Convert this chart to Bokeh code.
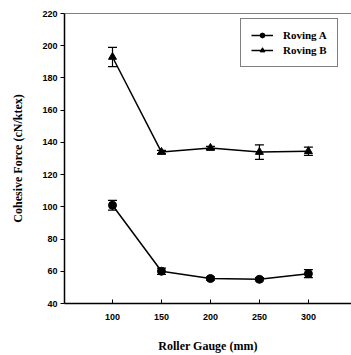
from bokeh.plotting import figure
from bokeh.models import ColumnDataSource, Whisker, TeeHead, Legend, LegendItem, Span, FixedTicker, Range1d
from bokeh.embed import file_html
from bokeh.resources import INLINE

gauge = [100, 150, 200, 250, 300]
roving_a = [101, 60, 55.5, 55, 58.5]
roving_a_err = [3, 2, 1, 1, 2.5]
roving_b = [193, 134, 136.5, 134, 134.5]
roving_b_err = [6, 1, 1, 4.5, 2.5]
y_ticks = [40, 60, 80, 100, 120, 140, 160, 180, 200, 220]

src_a = ColumnDataSource(dict(x=gauge, y=roving_a,
                              lo=[v - e for v, e in zip(roving_a, roving_a_err)],
                              hi=[v + e for v, e in zip(roving_a, roving_a_err)]))
src_b = ColumnDataSource(dict(x=gauge, y=roving_b,
                              lo=[v - e for v, e in zip(roving_b, roving_b_err)],
                              hi=[v + e for v, e in zip(roving_b, roving_b_err)]))

p = figure(width=351, height=355, output_backend="svg", toolbar_location=None,
           x_range=Range1d(51, 344), y_range=Range1d(40, 220),
           min_border_left=64, min_border_right=0, min_border_top=13, min_border_bottom=51)
p.outline_line_color = None
p.grid.visible = False
p.background_fill_color = "white"
p.border_fill_color = "white"

for ax in (p.xaxis[0], p.yaxis[0]):
    ax.axis_line_color = "black"
    ax.axis_line_width = 1.5
    ax.major_tick_line_color = "black"
    ax.minor_tick_line_color = None
    ax.major_label_text_font = "Liberation Sans"
    ax.major_label_text_font_style = "bold"
    ax.major_label_text_font_size = "9px"
    ax.major_label_text_color = "black"
    ax.axis_label_text_font = "Liberation Serif"
    ax.axis_label_text_font_style = "bold"
    ax.axis_label_text_font_size = "12px"
    ax.axis_label_text_color = "black"

p.xaxis.ticker = FixedTicker(ticks=gauge)
p.xaxis.major_tick_in = 4
p.xaxis.major_tick_out = 0
p.xaxis.major_label_standoff = 10
p.xaxis.axis_label = "Roller Gauge (mm)"
p.xaxis.axis_label_standoff = 16

p.yaxis.ticker = FixedTicker(ticks=y_ticks)
p.yaxis.major_tick_in = 0
p.yaxis.major_tick_out = 4
p.yaxis.major_label_standoff = 3
p.yaxis.axis_label = "Cohesive Force (cN/ktex)"
p.yaxis.axis_label_standoff = 14

p.add_layout(Span(location=220, dimension="width", line_color="black", line_width=1.2))

la = p.line("x", "y", source=src_a, line_color="black", line_width=1.5)
ma = p.scatter("x", "y", source=src_a, marker="circle", size=8, fill_color="black", line_color="black")
lb = p.line("x", "y", source=src_b, line_color="black", line_width=1.5)
mb = p.scatter("x", "y", source=src_b, marker="triangle", size=8, fill_color="black", line_color="black")

for src in (src_a, src_b):
    w = Whisker(source=src, base="x", lower="lo", upper="hi", line_color="black", line_width=1.2,
                upper_head=TeeHead(size=9, line_color="black", line_width=1.2),
                lower_head=TeeHead(size=9, line_color="black", line_width=1.2))
    p.add_layout(w)

legend = Legend(items=[LegendItem(label="Roving A", renderers=[la, ma]),
                       LegendItem(label="Roving B", renderers=[lb, mb])],
                location=(176, 236), border_line_color="black", border_line_width=1.2,
                label_text_font="Liberation Serif", label_text_font_style="bold",
                label_text_font_size="11px", label_text_color="black",
                glyph_width=22, glyph_height=12,
                label_height=12, spacing=3, padding=10, margin=0, label_standoff=10,
                background_fill_alpha=1)
p.add_layout(legend)

open("out.html", "w").write(file_html(p, INLINE))
